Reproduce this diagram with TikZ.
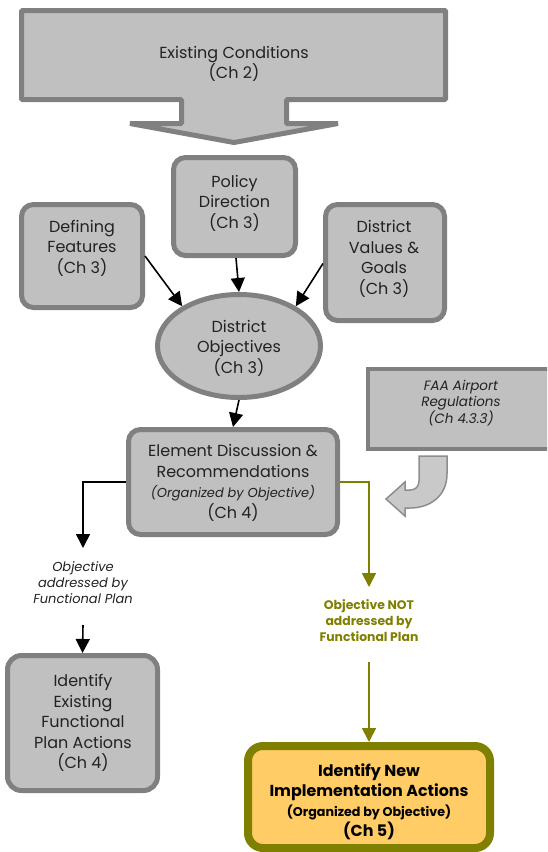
\documentclass[tikz,border=0pt]{standalone}
\usepackage{fontspec}
\setmainfont{Poppins}
\usetikzlibrary{arrows.meta,shapes.geometric}
\definecolor{boxfill}{HTML}{C0C0C0}
\definecolor{boxline}{HTML}{808080}
\definecolor{oliveC}{HTML}{808000}
\definecolor{newfill}{HTML}{FFCC66}
\definecolor{txt}{HTML}{222222}
\newcommand{\fmain}{\fontsize{16}{20.5}\selectfont}
\newcommand{\fsmall}{\fontsize{13}{16}\selectfont}
\begin{document}
\begin{tikzpicture}[x=1pt,y=-1pt,
  box/.style={draw=boxline, line width=5pt, fill=boxfill, rounded corners=12pt, inner sep=0pt},
  lbl/.style={text=txt, align=center, inner sep=0pt, font=\fmain},
  arr/.style={-{Triangle[length=14pt,width=14pt]}, line width=1.6pt, draw=black},
  oarr/.style={-{Triangle[length=14pt,width=14pt]}, line width=1.8pt, draw=oliveC}]
\useasboundingbox (0,0) rectangle (547,852);
\clip (0,0) rectangle (547,852);
% big top arrow
\draw[draw=boxline, line width=5pt, fill=boxfill, line join=bevel]
  (21.5,10.5) -- (445.5,10.5) -- (445.5,99.5) -- (286.5,99.5) -- (286.5,123.5)
  -- (338,123.5) -- (234,142.5) -- (130,123.5) -- (181.5,123.5) -- (181.5,99.5)
  -- (21.5,99.5) -- cycle;
\node[lbl, font=\fontsize{16}{20}\selectfont] (tEx) at (234,64) {Existing Conditions\\(Ch 2)};
% boxes
\node[box, minimum width=122pt, minimum height=98pt] (pol) at (234.5,206.5) {};
\node[box, minimum width=121pt, minimum height=103pt] (def) at (82,256) {};
\node[box, minimum width=119pt, minimum height=116pt] (val) at (385,262.5) {};
\node[box, ellipse, minimum width=163pt, minimum height=103pt] (ell) at (239,346) {};
\node[box, minimum width=209pt, minimum height=105pt] (elem) at (233,482) {};
\node[box, minimum width=150pt, minimum height=135pt, rounded corners=14pt] (exist) at (82.5,723) {};
\node[draw=boxline, line width=4pt, fill=boxfill, minimum width=192pt, minimum height=80pt, inner sep=0pt] (faa) at (464,409) {};
\node[draw=oliveC, fill=newfill, line width=8pt, rounded corners=15pt, minimum width=242pt, minimum height=102pt, inner sep=0pt] (new) at (369,797) {};
% texts
\node[lbl] (tPol) at (234.5,203) {Policy\\Direction\\(Ch 3)};
\node[lbl] (tDef) at (82,248) {Defining\\Features\\(Ch 3)};
\node[lbl] (tVal) at (384,259) {District\\Values \&\\Goals\\(Ch 3)};
\node[lbl] (tEll) at (239,348) {District\\Objectives\\(Ch 3)};
\node[lbl] (tElem) at (233,483) {Element Discussion \&\\Recommendations\\{\fsmall\itshape (Organized by Objective)}\\(Ch 4)};
\node[lbl] (tExist) at (83,723) {Identify\\Existing\\Functional\\Plan Actions\\(Ch 4)};
\node[lbl, font=\fontsize{13.5}{16}\selectfont\itshape] (tFaa) at (461,403) {FAA Airport\\Regulations\\(Ch 4.3.3)};
\node[lbl, font=\fsmall\itshape] (tLeft) at (83,583) {Objective\\addressed by\\Functional Plan};
\node[lbl, text=oliveC, font=\fontsize{12.4}{16}\selectfont\bfseries] (tRight) at (369,621) {Objective NOT\\addressed by\\Functional Plan};
\node[lbl, text=black, font=\fontsize{15.9}{20}\selectfont\bfseries] (tNew) at (369,801.5) {Identify New\\Implementation Actions\\{\fontsize{12.7}{14}\selectfont (Organized by Objective)}\\(Ch 5)};
% curved arrow from FAA
\draw[draw=boxline!90, line width=1.5pt, fill=boxfill!85!white]
  (419,456) -- (447,456) -- (447,474) .. controls (447,496) and (430,508) .. (410,508)
  -- (405,508) -- (405,516) -- (386,499) -- (405,482) -- (405,490) -- (410,490)
  .. controls (415,490) and (419,487) .. (419,481) -- cycle;
% connectors
\coordinate (lt) at (83,548);
\coordinate (ls) at (83,625);
\coordinate (rt) at (369,587);
\coordinate (rs) at (369,662);
\draw[arr] (def.east) -- (ell.145);
\draw[arr] ([xshift=1.5pt]pol.south) -- (ell.north);
\draw[arr] ([yshift=-1pt]val.west) -- (ell.35);
\draw[arr] (ell.south) -- (elem.north);
\draw[arr] (elem.west) -| (lt);
\draw[arr] (ls) -- (exist.north);
\draw[oarr] (elem.east) -| (rt);
\draw[oarr] (rs) -- (new.north);
\end{tikzpicture}
\end{document}
